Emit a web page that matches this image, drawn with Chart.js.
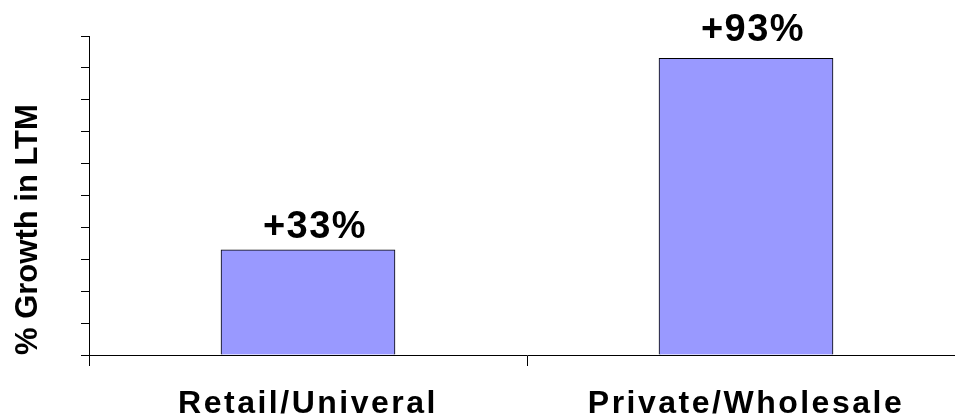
<!DOCTYPE html>
<html>
<head>
<meta charset="utf-8">
<script src="https://cdn.jsdelivr.net/npm/chart.js@4/dist/chart.umd.min.js"></script>
<style>
  html, body { margin: 0; padding: 0; background: #fff; overflow: hidden; }
  #wrap { width: 975px; height: 419px; }
</style>
</head>
<body>
<div id="wrap"><canvas id="chart" width="975" height="419"></canvas></div>
<script>
// Growth over the last twelve months, by channel
const categories = ['Retail/Univeral', 'Private/Wholesale'];
const growthPct = [33, 93];
const valueLabels = ['+33%', '+93%'];
const yTitle = '% Growth in LTM';

const FONT = '"Liberation Sans", Arial, Helvetica, sans-serif';

// Writes the growth figure above each bar
const barValueLabels = {
  id: 'barValueLabels',
  afterDatasetsDraw(chart, args, opts) {
    const ctx = chart.ctx;
    const meta = chart.getDatasetMeta(0);
    ctx.save();
    ctx.font = 'bold 38px ' + FONT;
    ctx.fillStyle = '#000';
    ctx.textAlign = 'center';
    ctx.textBaseline = 'alphabetic';
    ctx.letterSpacing = '1.5px';
    meta.data.forEach((bar, i) => {
      const gap = opts.gaps[i] ?? 14;
      ctx.fillText(valueLabels[i], bar.x + opts.dx, bar.y - gap);
    });
    ctx.restore();
    // category labels below the axis are drawn after the bars with wider tracking
    ctx.letterSpacing = '2.5px';
  },
  afterDraw(chart) {
    chart.ctx.letterSpacing = '0px';
  }
};

new Chart(document.getElementById('chart'), {
  type: 'bar',
  data: {
    labels: categories,
    datasets: [{
      data: growthPct,
      backgroundColor: '#9999FF',
      borderColor: '#000000',
      borderWidth: 1,
      barThickness: 174
    }]
  },
  options: {
    responsive: false,
    animation: false,
    devicePixelRatio: 1,
    layout: { padding: { top: 36, right: 10, bottom: 0, left: 0 } },
    plugins: {
      legend: { display: false },
      tooltip: { enabled: false },
      barValueLabels: { gaps: [12, 17], dx: 7 }
    },
    scales: {
      x: {
        afterFit(scale) { scale.height = 64; },
        grid: {
          offset: true,
          drawOnChartArea: false,
          drawTicks: true,
          tickLength: 11,
          color: '#000',
          lineWidth: 1
        },
        border: { display: true, color: '#000', width: 1 },
        ticks: {
          z: 1,
          color: '#000',
          padding: 22,
          maxRotation: 0,
          autoSkip: false,
          font: { family: FONT, size: 32, weight: 'bold', lineHeight: 1.0 }
        }
      },
      y: {
        min: 0,
        max: 100,
        grid: {
          drawOnChartArea: false,
          drawTicks: true,
          tickLength: 8,
          color: '#000',
          lineWidth: 1
        },
        border: { display: true, color: '#000', width: 1 },
        ticks: { display: false, stepSize: 10 },
        title: {
          display: true,
          text: yTitle,
          align: 'start',
          color: '#000',
          padding: { top: 10, bottom: 33.8 },
          font: { family: FONT, size: 31, weight: 'bold', lineHeight: 1.2 }
        }
      }
    }
  },
  plugins: [barValueLabels]
});
</script>
</body>
</html>
